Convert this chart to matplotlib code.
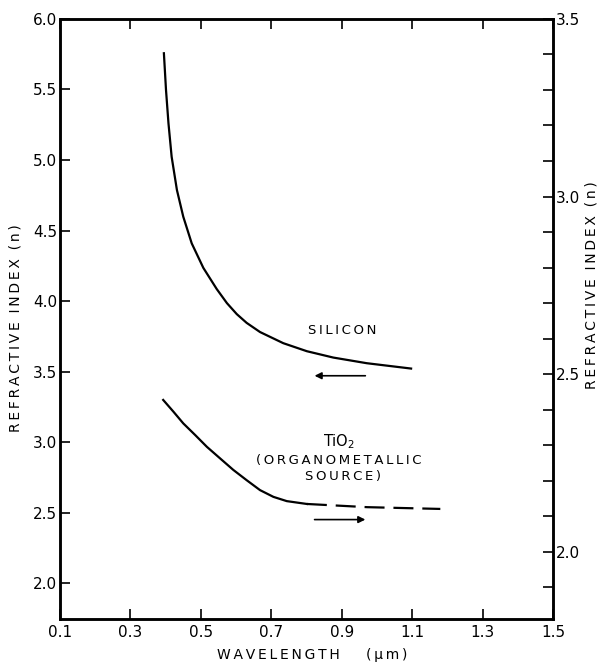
import matplotlib.pyplot as plt
from matplotlib.ticker import MultipleLocator

# silicon, read on the left axis
si_wl = [0.395, 0.401, 0.408, 0.417, 0.432, 0.450, 0.474, 0.507, 0.545,
         0.574, 0.602, 0.630, 0.668, 0.734, 0.801, 0.876, 0.971, 1.097]
si_n = [5.757, 5.496, 5.260, 5.023, 4.787, 4.598, 4.409, 4.235, 4.085,
        3.985, 3.907, 3.845, 3.780, 3.701, 3.644, 3.599, 3.559, 3.521]

# TiO2, read on the right axis (solid part, then dashed extrapolation)
ti_wl = [0.393, 0.422, 0.450, 0.484, 0.517, 0.555, 0.592, 0.630, 0.668,
         0.706, 0.744, 0.801]
ti_n = [2.427, 2.394, 2.361, 2.328, 2.295, 2.262, 2.230, 2.201, 2.173,
        2.154, 2.142, 2.134]
ti_wl_dash = [0.801, 0.972, 1.18]
ti_n_dash = [2.134, 2.125, 2.120]

xticks = [0.1, 0.3, 0.5, 0.7, 0.9, 1.1, 1.3, 1.5]
xlabels = ["0.1", "0.3", "0.5", "0.7", "0.9", "1.1", "1.3", "1.5"]
left_ticks = [2.0, 2.5, 3.0, 3.5, 4.0, 4.5, 5.0, 5.5, 6.0]
right_ticks = [2.0, 2.5, 3.0, 3.5]


def spaced(s):
    # wide letter spacing like the old lettering set
    return " ".join("\u2009".join(w) for w in s.split(" "))


plt.rcParams['font.family'] = ['DejaVu Sans']
fig = plt.figure(figsize=(6.02, 6.71), dpi=100)
ax = fig.add_axes([0.0997, 0.0775, 0.8189, 0.8942])
ax2 = ax.twinx()

ax.plot(si_wl, si_n, color='black', lw=1.6)
ax2.plot(ti_wl, ti_n, color='black', lw=1.6)
ax2.plot(ti_wl_dash, ti_n_dash, color='black', lw=1.6, dashes=(9, 4))

ax.set_xlim(0.1, 1.5)
ax.set_ylim(1.745, 6.0)
ax2.set_ylim(1.81, 3.5)

ax.set_xticks(xticks)
ax.set_xticklabels(xlabels)
ax.set_yticks(left_ticks)
ax.set_yticklabels(["%.1f" % v for v in left_ticks])
ax2.set_yticks(right_ticks)
ax2.set_yticklabels(["%.1f" % v for v in right_ticks])
ax2.yaxis.set_minor_locator(MultipleLocator(0.1))

ax.tick_params(axis='both', direction='in', length=7, width=1.2, labelsize=11,
               top=True, pad=4)
ax.tick_params(axis='y', pad=2)
ax2.tick_params(axis='y', which='both', direction='in', length=7, width=1.2,
                labelsize=11, pad=2)

for a in (ax, ax2):
    for s in a.spines.values():
        s.set_linewidth(1.8)

ax.annotate("", xy=(0.815, 3.47), xytext=(0.975, 3.47),
            arrowprops=dict(arrowstyle='-|>', color='black', lw=1.2,
                            mutation_scale=10))
ax.annotate("", xy=(0.975, 2.45), xytext=(0.815, 2.45),
            arrowprops=dict(arrowstyle='-|>', color='black', lw=1.2,
                            mutation_scale=10))

ax.text(0.90, 3.79, spaced("SILICON"), ha='center', va='center', fontsize=9.5)
ax.text(0.891, 3.0, "TiO$_2$", ha='center', va='center', fontsize=10.5)
ax.text(0.891, 2.872, spaced("(ORGANOMETALLIC"), ha='center', va='center',
        fontsize=9.5)
ax.text(0.905, 2.752, spaced("SOURCE)"), ha='center', va='center',
        fontsize=9.5)

ax.set_xlabel(spaced("WAVELENGTH") + "      " + spaced("(μm)"), fontsize=10,
              va='center')
ax.xaxis.set_label_coords(0.512, -0.06)
ax.set_ylabel(spaced("REFRACTIVE  INDEX  (n)"), fontsize=10, va='center')
ax.yaxis.set_label_coords(-0.091, 0.485)
ax2.set_ylabel(spaced("REFRACTIVE  INDEX  (n)"), fontsize=10, va='center',
               rotation=90)
ax2.yaxis.set_label_coords(1.078, 0.557)

plt.savefig('out.png', dpi=100)
